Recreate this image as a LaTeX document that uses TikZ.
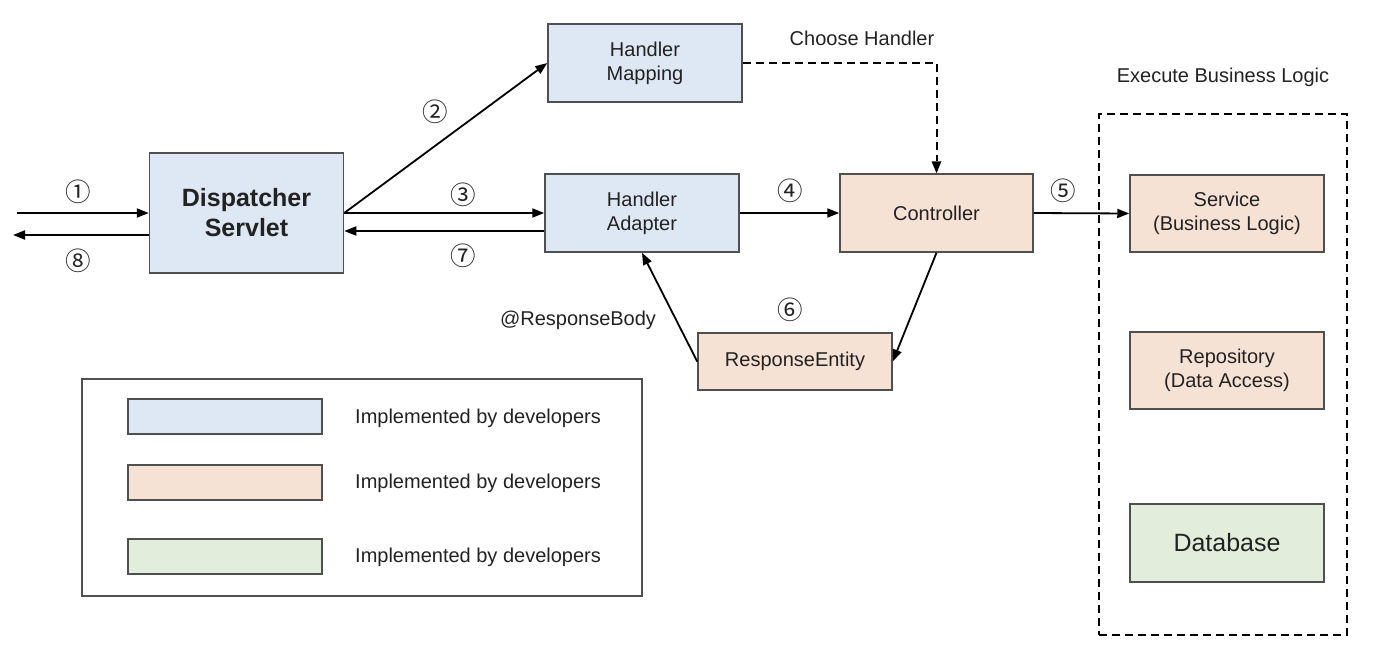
\documentclass[tikz,border=0pt]{standalone}
\usepackage{fontspec}
\setmainfont{Liberation Sans}
\newfontfamily\circfont{Noto Sans CJK SC}
\usetikzlibrary{arrows.meta}
\definecolor{bluefill}{HTML}{DEE8F4}
\definecolor{orangefill}{HTML}{F6E2D5}
\definecolor{greenfill}{HTML}{E3EDDB}
\definecolor{boxline}{HTML}{505050}
\definecolor{txt}{HTML}{222222}
\tikzset{
  compbox/.style={draw=boxline, line width=1.5pt, inner sep=0pt, align=center,
    minimum width=194pt, minimum height=77pt, text=txt,
    font=\fontsize{20}{24}\selectfont},
  bluebox/.style={compbox, fill=bluefill},
  orangebox/.style={compbox, fill=orangefill},
  greenbox/.style={compbox, fill=greenfill},
  arr/.style={draw=black, line width=1.8pt, -{Triangle[length=12pt,width=9pt]}},
  dasharr/.style={draw=black, line width=2pt, dash pattern=on 8pt off 5pt, -{Triangle[length=12pt,width=10pt,line width=0pt]}},
  numlbl/.style={inner sep=0pt, text=txt, font=\circfont\fontsize{25.5}{28}\selectfont},
  lbl/.style={inner sep=0pt, text=txt, font=\fontsize{20}{24}\selectfont},
}
\begin{document}
\begin{tikzpicture}[x=1pt, y=-1pt]
\useasboundingbox (0,0) rectangle (1374,664);

% components
\node[bluebox, minimum height=120pt, font=\bfseries\fontsize{25}{30}\selectfont] (ds) at (246.5,213) {Dispatcher\\Servlet};
\node[bluebox, minimum height=78pt] (hm) at (645,63) {Handler\\Mapping};
\node[bluebox, minimum height=78pt] (ha) at (642,213) {Handler\\Adapter};
\node[orangebox, minimum width=193pt, minimum height=78pt] (ctrl) at (936.5,213) {Controller};
\node[orangebox, minimum height=57pt] (re) at (795,361.5) {ResponseEntity};
\node[orangebox] (svc) at (1227,213.5) {Service\\(Business Logic)};
\node[orangebox] (repo) at (1227,370.5) {Repository\\(Data Access)};
\node[greenbox, minimum height=78pt, font=\fontsize{25}{30}\selectfont] (db) at (1227,543) {Database};

% dashed business logic frame
\node[draw=black, line width=2pt, dash pattern=on 8pt off 5pt, minimum width=248pt, minimum height=521pt, inner sep=0pt] (frame) at (1223,374.5) {};
\node[lbl] (ebl) at (1223,77) {Execute Business Logic};

% legend
\node[draw=boxline, line width=1.5pt, minimum width=560pt, minimum height=217pt, inner sep=0pt] (legend) at (362,487.5) {};
\node[bluebox, minimum height=35pt] (lg1) at (225,416.5) {};
\node[orangebox, minimum height=35pt] (lg2) at (225,482.5) {};
\node[greenbox, minimum height=35pt] (lg3) at (225,556.5) {};
\node[lbl, anchor=west] (lt1) at (355,418) {Implemented by developers};
\node[lbl, anchor=west] (lt2) at (355,483) {Implemented by developers};
\node[lbl, anchor=west] (lt3) at (355,557) {Implemented by developers};

% free ends
\coordinate (inend) at (17,213);
\coordinate (outend) at (13,235);

% connectors
\draw[arr] (inend) -- (inend -| ds.west);
\draw[arr] (ds.west |- outend) -- (outend);
\draw[arr] (ds.east) -- (hm.west);
\draw[arr] (ds.east) -- (ha.west);
\draw[arr] ([yshift=-18pt]ha.west) -- ([yshift=-18pt]ds.east);
\draw[arr] (ha.east) -- (ctrl.west);
\draw[dasharr] (hm.east) -| (ctrl.north);
\draw[arr] (ctrl.east) -- (svc.west);
\draw[arr] (ctrl.south) -- (re.east);
\draw[arr] (re.west) -- (ha.south);

% labels
\node[numlbl] (n1) at (78,192) {①};
\node[numlbl] (n8) at (78,261) {⑧};
\node[numlbl] (n2) at (435,112) {②};
\node[numlbl] (n3) at (463,195) {③};
\node[numlbl] (n7) at (463,256) {⑦};
\node[numlbl] (n4) at (790,191) {④};
\node[numlbl] (n5) at (1063,191) {⑤};
\node[numlbl] (n6) at (790,310) {⑥};
\node[lbl] (ch) at (862,38) {Choose Handler};
\node[lbl] (rb) at (578,320) {@ResponseBody};
\end{tikzpicture}
\end{document}
